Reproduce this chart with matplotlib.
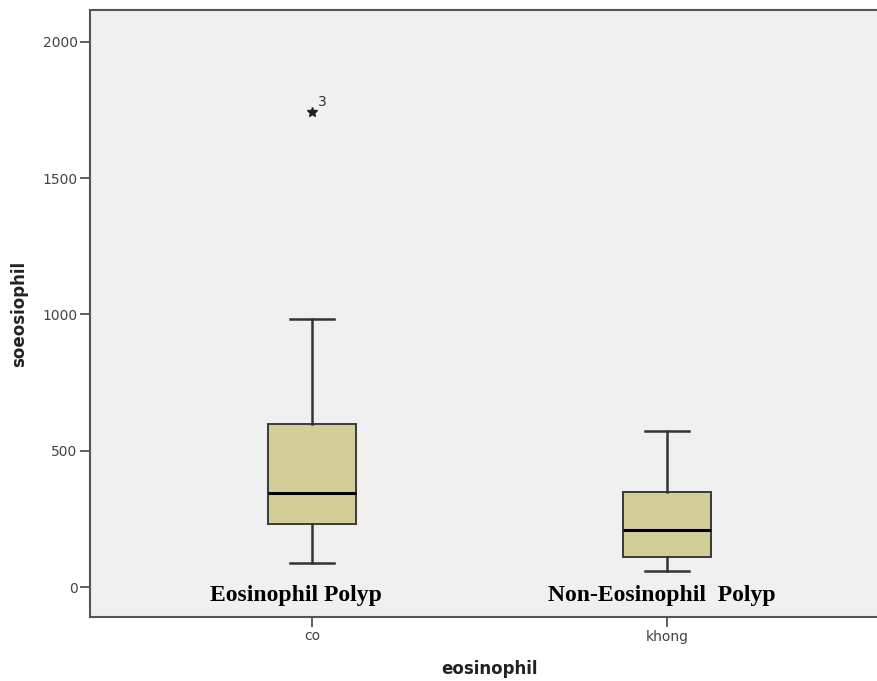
import matplotlib.pyplot as plt

# values
groups = ["co", "khong"]
whisker_low = [88, 59]
q1 = [231, 110]
medians = [345, 209]
q3 = [598, 349]
whisker_high = [983, 572]
outliers = [[1743], []]
outlier_ids = [["3"], []]
group_notes = ["Eosinophil Polyp", "Non-Eosinophil  Polyp"]

fig = plt.figure(figsize=(8.77, 6.81), dpi=100)
ax = fig.add_axes([90 / 877, 64 / 681, 799 / 877, 607 / 681])
ax.set_facecolor("#f0f0f0")

stats = []
for i in range(len(groups)):
    stats.append({
        "label": groups[i],
        "whislo": whisker_low[i],
        "q1": q1[i],
        "med": medians[i],
        "q3": q3[i],
        "whishi": whisker_high[i],
        "fliers": [],
    })

ax.bxp(stats, positions=[1, 2], widths=0.25, patch_artist=True, showfliers=False,
       boxprops=dict(facecolor="#d3ce97", edgecolor="#3a3a3a", linewidth=1.4),
       medianprops=dict(color="black", linewidth=2.2),
       whiskerprops=dict(color="#333333", linewidth=1.8),
       capprops=dict(color="#333333", linewidth=1.8))

# extreme values marked with a star and their case number
for i, vals in enumerate(outliers):
    for v, lab in zip(vals, outlier_ids[i]):
        ax.plot(i + 1, v, marker="*", color="#222222", markersize=7, linestyle="none")
        ax.annotate(lab, (i + 1, v), xytext=(4, 4), textcoords="offset points",
                    fontsize=10, color="#333333")

# group captions inside the plot
note_x = [0.956, 1.985]
for x, note in zip(note_x, group_notes):
    ax.text(x, -30, note, ha="center", va="center", fontsize=17,
            family="Liberation Serif", fontweight="bold", color="black")

ax.set_xlim(0.3746, 2.625)
ax.set_ylim(-110, 2117)
ax.set_xticks([1, 2])
ax.set_xticklabels(groups)
ax.set_yticks([0, 500, 1000, 1500, 2000])

ax.tick_params(axis="both", direction="out", length=7.5, width=1.2, color="#444444",
               labelsize=10, labelcolor="#444444", pad=1.5)
for side in ["left", "bottom", "top", "right"]:
    ax.spines[side].set_color("#555555")
    ax.spines[side].set_linewidth(1.5)

ax.set_xlabel("eosinophil", fontsize=12, fontweight="bold", color="#222222")
ax.set_ylabel("soeosiophil", fontsize=12, fontweight="bold", color="#222222")
ax.xaxis.set_label_coords(0.5, -0.071)
ax.yaxis.set_label_coords(-0.077, 0.5)

fig.savefig("out.png", dpi=100)
